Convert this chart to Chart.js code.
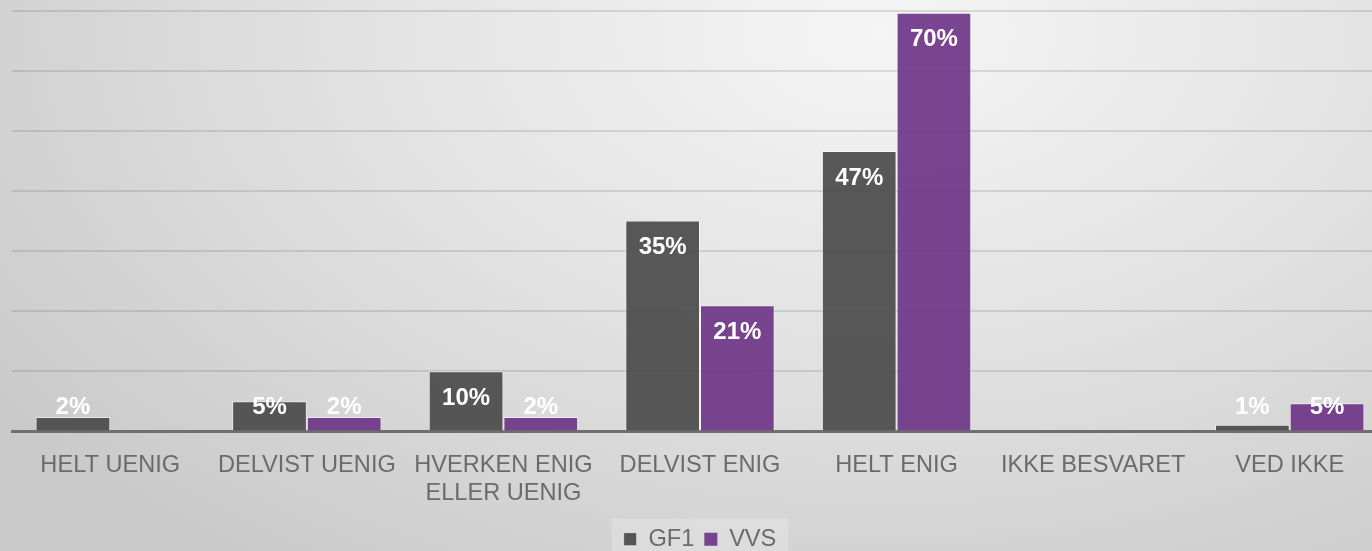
<!DOCTYPE html>
<html>
<head>
<meta charset="utf-8">
<script src="https://cdn.jsdelivr.net/npm/chart.js@4"></script>
<style>
  html, body { margin: 0; padding: 0; overflow: hidden; }
  body {
    width: 1372px; height: 551px;
    background: radial-gradient(ellipse 80% 120% at 64% 6%, #f5f5f5 0%, #e3e3e3 45%, #c9c9c9 100%);
  }
  #wrap { width: 1400px; height: 561px; }
</style>
</head>
<body>
<div id="wrap"><canvas id="grafico" width="1400" height="561"></canvas></div>
<script>
const categorias = ['HELT UENIG', 'DELVIST UENIG', ['HVERKEN ENIG', 'ELLER UENIG'], 'DELVIST ENIG', 'HELT ENIG', 'IKKE BESVARET', 'VED IKKE']
const valoresGF1 = [2.4, 5, 10, 35.1, 46.7, 0, 1.1]
const valoresVVS = [0, 2.4, 2.4, 21, 69.7, 0, 4.7]
const ticksY = [0, 10, 20, 30, 40, 50, 60, 70]

const fonte = '"Liberation Sans", Arial, sans-serif'

// rotulos brancos dentro do topo das barras
const rotulos = {
    id: 'rotulos',
    afterDatasetsDraw(chart) {
        const ctx = chart.ctx
        ctx.save()
        ctx.fillStyle = '#ffffff'
        ctx.font = 'bold 24px ' + fonte
        ctx.textAlign = 'center'
        ctx.textBaseline = 'middle'
        chart.data.datasets.forEach((ds, i) => {
            chart.getDatasetMeta(i).data.forEach((bar, j) => {
                const v = ds.data[j]
                if (!v) return
                const y = Math.min(bar.y + 27, bar.base - 23)
                ctx.fillText(Math.round(v) + '%', bar.x, y)
            })
        })
        ctx.restore()
    }
}

// fundo claro atras da legenda
const fundoLegenda = {
    id: 'fundoLegenda',
    beforeDraw(chart) {
        const caixas = chart.legend.legendHitBoxes
        if (!caixas || !caixas.length) return
        const ctx = chart.ctx
        const esq = caixas[0].left - 12
        const dir = caixas[caixas.length - 1].left + caixas[caixas.length - 1].width + 12
        ctx.save()
        ctx.fillStyle = 'rgba(255,255,255,0.22)'
        ctx.fillRect(esq, chart.legend.top + 1, dir - esq, chart.height)
        ctx.restore()
    }
}

new Chart(document.getElementById('grafico'), {
    type: 'bar',
    data: {
        labels: categorias,
        datasets: [{
            label: 'GF1',
            data: valoresGF1,
            backgroundColor: 'rgba(71,71,71,0.9)',
            borderColor: 'rgba(255,255,255,0.55)',
            borderWidth: c => c.raw ? 1 : 0
        }, {
            label: 'VVS',
            data: valoresVVS,
            backgroundColor: 'rgba(107,50,133,0.9)',
            borderColor: 'rgba(255,255,255,0.55)',
            borderWidth: c => c.raw ? 1 : 0
        }]
    },
    options: {
        responsive: false,
        animation: false,
        categoryPercentage: 0.76,
        barPercentage: 1,
        layout: { padding: { top: 11, left: 12, right: 12, bottom: 0 } },
        plugins: {
            tooltip: { enabled: false },
            legend: {
                position: 'bottom',
                labels: {
                    font: { family: fonte, size: 23.6 },
                    color: '#6b6b6b',
                    boxWidth: 13,
                    boxHeight: 13,
                    padding: 10
                }
            }
        },
        scales: {
            x: {
                grid: { display: false },
                border: { display: true, color: '#6f6f6f', width: 3 },
                ticks: {
                    font: { family: fonte, size: 23.6, lineHeight: 1.15 },
                    color: '#6b6b6b',
                    maxRotation: 0,
                    autoSkip: false,
                    padding: 13
                },
                afterFit: s => { s.height = 86 }
            },
            y: {
                min: 0,
                max: 70,
                afterBuildTicks: s => { s.ticks = ticksY.map(v => ({ value: v })) },
                ticks: { display: false },
                border: { display: false },
                grid: {
                    drawTicks: false,
                    lineWidth: 2,
                    color: c => c.tick && c.tick.value === 0 ? 'transparent' : 'rgba(0,0,0,0.11)'
                }
            }
        }
    },
    plugins: [fundoLegenda, rotulos]
})
</script>
</body>
</html>
